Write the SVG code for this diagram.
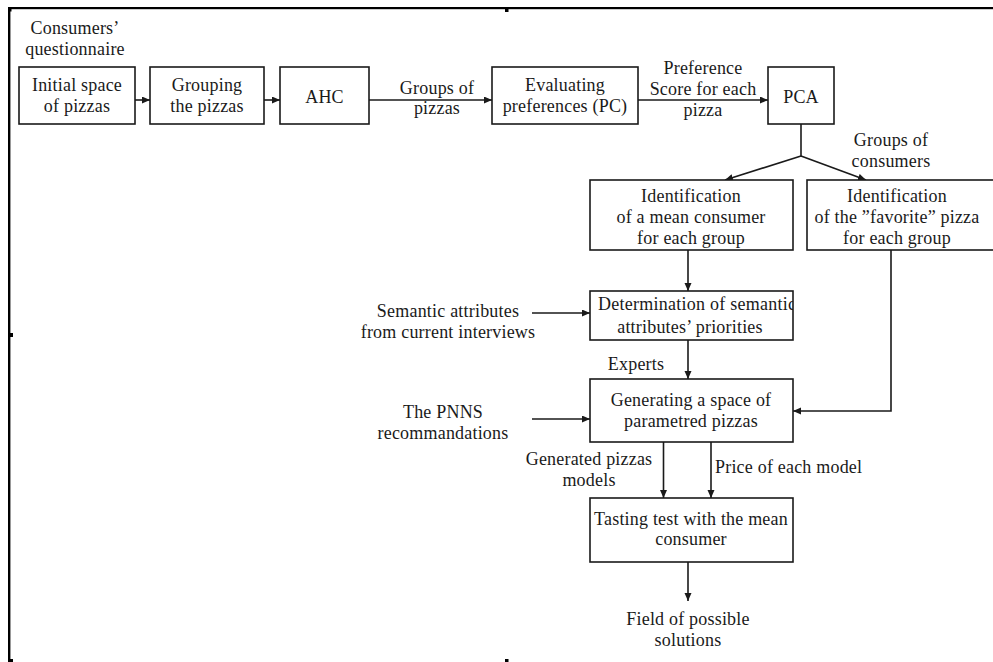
<svg xmlns="http://www.w3.org/2000/svg" width="993" height="662" viewBox="0 0 993 662">
<style>
text{font-family:"Liberation Serif","Times New Roman",serif;font-size:18px;fill:#1a1a1a;text-anchor:middle;letter-spacing:0.2px}
.box{fill:#fff;stroke:#1a1a1a;stroke-width:1.6}
.ln{fill:none;stroke:#1a1a1a;stroke-width:1.6}
.frame{fill:#000}
</style>
<defs>
<marker id="ah" markerUnits="userSpaceOnUse" markerWidth="9" markerHeight="8" refX="8" refY="3.5" orient="auto">
<path d="M0,0 L8,3.5 L0,7 z" fill="#1a1a1a"/>
</marker>
<clipPath id="detclip"><rect x="590" y="291" width="203" height="49"/></clipPath>
</defs>
<rect width="993" height="662" fill="#fff"/>
<g id="frame">
<rect class="frame" x="8" y="7" width="985" height="2.2"/>
<rect class="frame" x="8" y="7" width="2.4" height="655"/>
<rect class="frame" x="8" y="9" width="3.5" height="2.5"/>
<rect class="frame" x="10" y="333" width="3" height="4"/>
<rect class="frame" x="8" y="659" width="5" height="3"/>
<rect class="frame" x="505" y="9" width="3.5" height="3"/>
<rect class="frame" x="505" y="659" width="3.5" height="3"/>
</g>
<g id="connectors">
<line class="ln" x1="135" y1="100" x2="150" y2="100" marker-end="url(#ah)"/>
<line class="ln" x1="264" y1="100" x2="280" y2="100" marker-end="url(#ah)"/>
<line class="ln" x1="369" y1="100" x2="492" y2="100" marker-end="url(#ah)"/>
<line class="ln" x1="638" y1="100" x2="768" y2="100" marker-end="url(#ah)"/>
<polyline class="ln" points="801,124 801,156"/>
<line class="ln" x1="801" y1="156" x2="725" y2="180" marker-end="url(#ah)"/>
<line class="ln" x1="801" y1="156" x2="866" y2="180" marker-end="url(#ah)"/>
<line class="ln" x1="688" y1="250" x2="688" y2="291" marker-end="url(#ah)"/>
<line class="ln" x1="532" y1="313" x2="590" y2="313" marker-end="url(#ah)"/>
<line class="ln" x1="688" y1="340" x2="688" y2="379" marker-end="url(#ah)"/>
<polyline class="ln" points="891,250 891,411 793,411" marker-end="url(#ah)"/>
<line class="ln" x1="532" y1="419" x2="590" y2="419" marker-end="url(#ah)"/>
<line class="ln" x1="663.5" y1="442" x2="663.5" y2="498" marker-end="url(#ah)"/>
<line class="ln" x1="711" y1="442" x2="711" y2="498" marker-end="url(#ah)"/>
<line class="ln" x1="688" y1="562" x2="688" y2="601" marker-end="url(#ah)"/>
</g>
<g id="lbl-questionnaire">
<text x="75" y="34">Consumers’</text>
<text x="75" y="55">questionnaire</text>
</g>
<g id="n-initial">
<rect class="box" x="19" y="67" width="116" height="57"/>
<text x="77" y="91">Initial space</text>
<text x="77" y="112">of pizzas</text>
</g>
<g id="n-grouping">
<rect class="box" x="150" y="67" width="114" height="57"/>
<text x="207" y="91">Grouping</text>
<text x="207" y="112">the pizzas</text>
</g>
<g id="n-ahc">
<rect class="box" x="280" y="67" width="89" height="57"/>
<text x="324.5" y="103">AHC</text>
</g>
<g id="lbl-groups-pizzas">
<text x="437" y="94">Groups of</text>
<text x="437" y="114">pizzas</text>
</g>
<g id="n-evaluating">
<rect class="box" x="492" y="67" width="146" height="57"/>
<text x="565" y="91">Evaluating</text>
<text x="565" y="112">preferences  (PC)</text>
</g>
<g id="lbl-preference">
<text x="703" y="74">Preference</text>
<text x="703" y="95">Score for each</text>
<text x="703" y="116">pizza</text>
</g>
<g id="n-pca">
<rect class="box" x="768" y="67" width="66" height="57"/>
<text x="801" y="103">PCA</text>
</g>
<g id="lbl-groups-consumers">
<text x="891" y="146">Groups of</text>
<text x="891" y="167">consumers</text>
</g>
<g id="n-mean-consumer">
<rect class="box" x="590" y="180" width="203" height="70"/>
<text x="691" y="202">Identification</text>
<text x="691" y="223">of a mean consumer</text>
<text x="691" y="244">for each group</text>
</g>
<g id="n-favorite">
<rect class="box" x="807" y="180" width="200" height="70"/>
<text x="897" y="202">Identification</text>
<text x="897" y="223">of the ”favorite” pizza</text>
<text x="897" y="244">for each group</text>
</g>
<g id="lbl-semantic">
<text x="448" y="317">Semantic attributes</text>
<text x="448" y="338">from current interviews</text>
</g>
<g id="n-determination">
<rect class="box" x="590" y="291" width="203" height="49"/>
<text x="598" y="310" clip-path="url(#detclip)" style="text-anchor:start;letter-spacing:0.25px">Determination  of semantic</text>
<text x="690" y="333">attributes’ priorities</text>
</g>
<g id="lbl-experts">
<text x="636" y="370">Experts</text>
</g>
<g id="lbl-pnns">
<text x="443" y="418">The PNNS</text>
<text x="443" y="439">recommandations</text>
</g>
<g id="n-generating">
<rect class="box" x="590" y="379" width="203" height="63"/>
<text x="691" y="406">Generating a space of</text>
<text x="691" y="427">parametred pizzas</text>
</g>
<g id="lbl-generated">
<text x="589" y="465">Generated pizzas</text>
<text x="589" y="486">models</text>
</g>
<g id="lbl-price">
<text x="715" y="473" style="text-anchor:start">Price of each model</text>
</g>
<g id="n-tasting">
<rect class="box" x="590" y="498" width="203" height="64"/>
<text x="691" y="525">Tasting test with the mean</text>
<text x="691" y="545">consumer</text>
</g>
<g id="lbl-field">
<text x="688" y="625">Field of possible</text>
<text x="688" y="646">solutions</text>
</g>
</svg>
